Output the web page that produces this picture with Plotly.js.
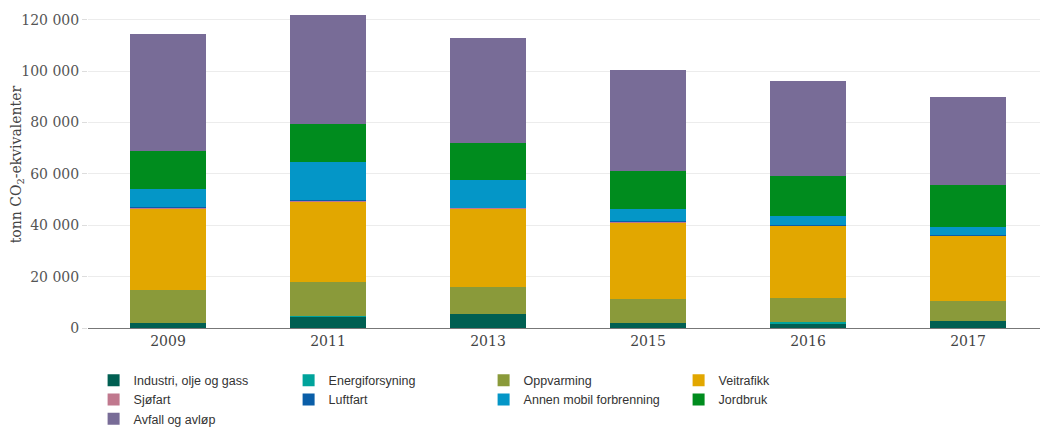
<!DOCTYPE html>
<html>
<head>
<meta charset="utf-8">
<script src="https://cdn.plot.ly/plotly-3.0.1.min.js"></script>
<style>
html,body{margin:0;padding:0;background:#fff;}
#chart{width:1040px;height:430px;}
</style>
</head>
<body>
<div id="chart"></div>
<script>
const years = ["2009", "2011", "2013", "2015", "2016", "2017"];
const seriesNames = ["Industri, olje og gass", "Energiforsyning", "Oppvarming", "Veitrafikk", "Sjøfart", "Luftfart", "Annen mobil forbrenning", "Jordbruk", "Avfall og avløp"];
const yTitle = 'tonn CO<sub>2</sub>-ekvivalenter';
const industri = [2000, 4400, 5400, 2000, 1500, 2800];
const energiforsyning = [100, 100, 100, 100, 700, 100];
const oppvarming = [12600, 13500, 10600, 9100, 9500, 7700];
const veitrafikk = [31700, 31000, 30300, 29800, 27900, 25200];
const sjofart = [200, 300, 200, 400, 300, 200];
const luftfart = [600, 500, 300, 200, 200, 200];
const annenMobil = [6900, 14700, 10800, 4700, 3500, 3000];
const jordbruk = [14800, 14900, 14500, 14900, 15500, 16500];
const avfall = [45600, 42500, 40900, 39100, 37100, 34400];
const colors = ["#005f52", "#00a39b", "#8a9a3a", "#e2a700", "#c0788e", "#0a5ea8", "#0496c7", "#008c1e", "#786c97"];

const values = [industri, energiforsyning, oppvarming, veitrafikk, sjofart, luftfart, annenMobil, jordbruk, avfall];
const traces = values.map((v, i) => ({
  type: 'bar',
  name: seriesNames[i],
  x: years,
  y: v,
  marker: {color: colors[i], line: {width: 0}},
  hoverinfo: 'x+y+name'
}));

const layout = {
  width: 1040, height: 430,
  barmode: 'stack',
  bargap: 0.52,
  separators: ', ',
  paper_bgcolor: '#fff', plot_bgcolor: '#fff',
  margin: {l: 88, r: 0, t: 7, b: 102},
  font: {family: '"Liberation Sans", Arial, sans-serif', color: '#333'},
  xaxis: {
    type: 'category',
    range: [-0.5, 5.45],
    showgrid: false,
    showline: true, linecolor: '#777', linewidth: 1,
    ticks: '',
    tickfont: {family: '"DejaVu Serif", serif', size: 14, color: '#444'},
    fixedrange: true
  },
  yaxis: {
    range: [0, 125000],
    tickvals: [0, 20000, 40000, 60000, 80000, 100000, 120000],
    tickformat: ',d',
    showgrid: true, gridcolor: '#ececec', gridwidth: 1,
    zeroline: false,
    ticks: 'outside', ticklen: 5, tickcolor: '#ddd',
    tickfont: {family: '"DejaVu Serif", serif', size: 14, color: '#555'},
    fixedrange: true
  },
  annotations: [{
    text: yTitle,
    xref: 'paper', yref: 'paper',
    x: -0.0746, y: 0.51, xanchor: 'center', yanchor: 'middle',
    textangle: -90, showarrow: false,
    font: {family: '"DejaVu Serif", serif', size: 14, color: '#444'}
  }],
  showlegend: true,
  legend: {
    orientation: 'h',
    traceorder: 'normal',
    xref: 'container', yref: 'container',
    x: 0.09, y: 0.15, xanchor: 'left', yanchor: 'top',
    entrywidth: 150, entrywidthmode: 'pixels',
    font: {family: '"Liberation Sans", Arial, sans-serif', size: 12.5, color: '#333'},
    itemclick: false, itemdoubleclick: false,
    tracegroupgap: 0
  }
};

Plotly.newPlot('chart', traces, layout, {displayModeBar: false, staticPlot: true});
</script>
</body>
</html>
